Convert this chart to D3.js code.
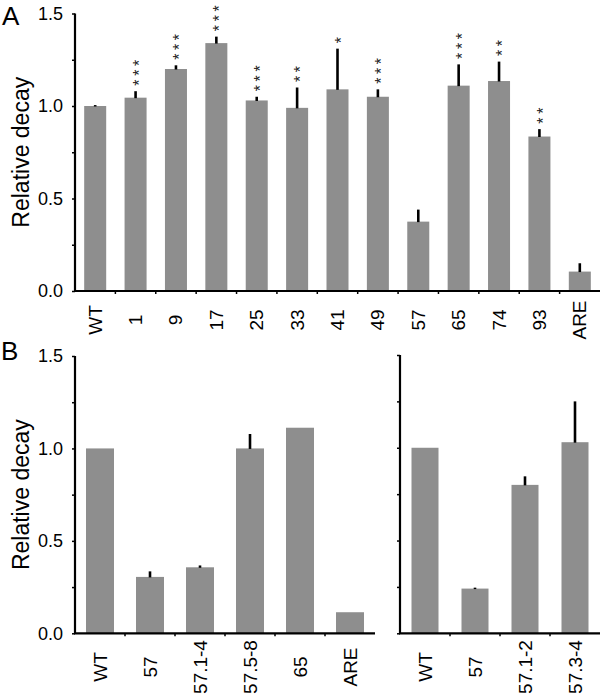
<!DOCTYPE html>
<html>
<head>
<meta charset="utf-8">
<script src="https://cdn.jsdelivr.net/npm/d3@7"></script>
<style>
  html, body { margin: 0; padding: 0; background: #fff; }
  svg { display: block; font-family: "Liberation Sans", Arial, sans-serif; }
</style>
</head>
<body>
<svg id="chart" width="600" height="697"></svg>
<script>
// ---- Data ----
const catsA  = ["WT","1","9","17","25","33","41","49","57","65","74","93","ARE"];
const valsA  = [1.00, 1.045, 1.20, 1.34, 1.03, 0.99, 1.09, 1.05, 0.375, 1.11, 1.135, 0.835, 0.105];
const errA   = [0.005, 0.035, 0.02, 0.035, 0.02, 0.11, 0.22, 0.04, 0.065, 0.115, 0.105, 0.04, 0.045];
const starsA = ["", "***", "***", "***", "***", "**", "*", "***", "", "***", "**", "**", ""];

const catsB1 = ["WT","57","57.1-4","57.5-8","65","ARE"];
const valsB1 = [1.00, 0.305, 0.357, 1.00, 1.112, 0.114];
const errB1  = [0, 0.03, 0.01, 0.078, 0, 0];

const catsB2 = ["WT","57","57.1-2","57.3-4"];
const valsB2 = [1.00, 0.241, 0.80, 1.03];
const errB2  = [0, 0.005, 0.046, 0.22];

const yTicks = [0, 0.25, 0.5, 0.75, 1.0, 1.25, 1.5];
const yLabel = "Relative decay";

// ---- Drawing ----
const svg = d3.select("#chart");
const barColor = "#8e8e8e";

function panel(opts) {
  const {cats, vals, errs, stars, x0, x1, yTop, yBot, pad, labelY, showYLabels} = opts;
  const x = d3.scaleBand().domain(cats).range([x0, x1])
    .paddingInner(pad).paddingOuter(pad / 2);
  const y = d3.scaleLinear().domain([0, 1.5]).range([yBot, yTop]);
  const g = svg.append("g");

  // bars
  g.selectAll("rect.bar").data(cats).join("rect")
    .attr("class", "bar")
    .attr("x", d => x(d))
    .attr("width", x.bandwidth())
    .attr("y", (d, i) => y(vals[i]))
    .attr("height", (d, i) => y(0) - y(vals[i]))
    .attr("fill", barColor);

  // error bars (upper only)
  g.selectAll("line.err").data(cats.filter((d, i) => errs[i] > 0)).join("line")
    .attr("class", "err")
    .attr("x1", d => x(d) + x.bandwidth() / 2)
    .attr("x2", d => x(d) + x.bandwidth() / 2)
    .attr("y1", d => y(vals[cats.indexOf(d)]) + 0.5)
    .attr("y2", d => y(vals[cats.indexOf(d)] + errs[cats.indexOf(d)]))
    .attr("stroke", "#000")
    .attr("stroke-width", 2.6);

  // significance stars: one vertical text per bar
  if (stars) {
    cats.forEach((d, i) => {
      if (!stars[i]) return;
      const top = y(vals[i] + errs[i]);
      const cx = x(d) + x.bandwidth() / 2;
      g.append("text")
        .attr("transform", `translate(${cx},${top - 5.5}) rotate(-90)`)
        .attr("x", 0)
        .attr("y", 0)
        .attr("dy", "0.57em")
        .attr("text-anchor", "start")
        .attr("font-size", 16)
        .attr("letter-spacing", 3.6)
        .attr("fill", "#222")
        .text(stars[i]);
    });
  }

  // y axis
  const yAxis = d3.axisLeft(y).tickValues(yTicks).tickSize(3).tickSizeOuter(0).tickPadding(9)
    .tickFormat(d => (showYLabels && Math.abs(d * 2 - Math.round(d * 2)) < 1e-9) ? d.toFixed(1) : "");
  const ya = g.append("g").attr("transform", `translate(${x0},0)`).call(yAxis);
  ya.select(".domain").attr("stroke-width", 2.2).attr("d", `M0,${yTop}V${yBot}`);
  ya.selectAll(".tick line").attr("stroke-width", 1.5);
  ya.selectAll("text").attr("font-size", 18).attr("fill", "#000")
    .attr("font-family", "Liberation Sans, Arial, sans-serif");

  // x axis line
  g.append("line").attr("x1", x0 - 1).attr("x2", x1).attr("y1", y(0)).attr("y2", y(0))
    .attr("stroke", "#000").attr("stroke-width", 2.2);
  // x ticks at band boundaries
  const bounds = cats.slice(1).map(d => x(d) - x.step() * pad / 2);
  g.selectAll("line.xt").data(bounds).join("line")
    .attr("class", "xt")
    .attr("x1", d => d).attr("x2", d => d)
    .attr("y1", y(0)).attr("y2", y(0) + 3)
    .attr("stroke", "#000").attr("stroke-width", 1.5);

  // x labels (rotated)
  g.selectAll("text.xl").data(cats).join("text")
    .attr("class", "xl")
    .attr("transform", d => `translate(${x(d) + x.bandwidth() / 2},${labelY}) rotate(-90)`)
    .attr("text-anchor", "middle")
    .attr("dominant-baseline", "central")
    .attr("font-size", 19)
    .attr("fill", "#000")
    .text(d => d);

  if (showYLabels) {
    g.append("text")
      .attr("transform", `translate(29,${(yTop + yBot) / 2}) rotate(-90)`)
      .attr("text-anchor", "middle")
      .attr("font-size", 23)
      .attr("fill", "#000")
      .text(yLabel);
  }
}

panel({cats: catsA, vals: valsA, errs: errA, stars: starsA, x0: 75, x1: 600,
       yTop: 13.5, yBot: 291, pad: 0.455, labelY: 320, showYLabels: true});
panel({cats: catsB1, vals: valsB1, errs: errB1, stars: null, x0: 75, x1: 375,
       yTop: 356, yBot: 633.3, pad: 0.44, labelY: 667, showYLabels: true});
panel({cats: catsB2, vals: valsB2, errs: errB2, stars: null, x0: 400, x1: 600,
       yTop: 355, yBot: 633.3, pad: 0.46, labelY: 667, showYLabels: false});

// panel letters
svg.append("text").attr("x", 2).attr("y", 25).attr("font-size", 26).attr("fill", "#000").text("A");
svg.append("text").attr("x", 1).attr("y", 360).attr("font-size", 26).attr("fill", "#000").text("B");
</script>
</body>
</html>
